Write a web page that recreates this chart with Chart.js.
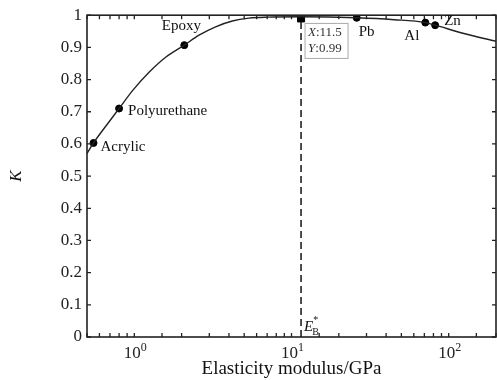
<!DOCTYPE html>
<html lang="en">
<head>
    <meta charset="UTF-8">
    <title>K vs elasticity modulus</title>
    <script src="https://cdn.jsdelivr.net/npm/chart.js"></script>
    <style>
        html, body { margin: 0; padding: 0; background: #fff; }
        #wrap { width: 497px; height: 380px; }
    </style>
</head>
<body>
    <div id="wrap">
        <canvas id="kChart" width="497" height="380"></canvas>
    </div>
    <script>
        // curve K(E)
        const curveX = [0.5, 0.55, 0.665, 0.8, 0.98, 1.25, 1.59, 2.08, 2.58, 3.29, 4.2, 5.35, 7, 11.5, 26, 45, 71, 82, 125, 200];
        const curveY = [0.57, 0.603, 0.658, 0.71, 0.767, 0.824, 0.87, 0.907, 0.938, 0.964, 0.982, 0.991, 0.994, 0.995, 0.992, 0.986, 0.977, 0.969, 0.943, 0.919];

        // materials marked on the curve
        const materials = ['Acrylic', 'Polyurethane', 'Epoxy', 'Pb', 'Al', 'Zn'];
        const matX = [0.55, 0.8, 2.08, 26, 71, 82];
        const matY = [0.603, 0.71, 0.907, 0.992, 0.977, 0.969];

        // optimum point E_B*
        const peakX = 11.5;
        const peakY = 0.99;

        const yTicks = [0, 0.1, 0.2, 0.3, 0.4, 0.5, 0.6, 0.7, 0.8, 0.9, 1];
        const xDecades = [1, 10, 100];   // labelled as 10^0, 10^1, 10^2

        const serif = "'Liberation Serif', 'Times New Roman', serif";

        // label offsets next to each point (px), text align
        const labelPos = {
            'Acrylic': [7, 4, 'left'],
            'Polyurethane': [9, 3, 'left'],
            'Epoxy': [-3, -19, 'center'],
            'Pb': [2, 14, 'left'],
            'Al': [-6, 13, 'right'],
            'Zn': [9, -4, 'left']
        };

        // draws inward ticks, the frame, the 10^n labels and the annotations
        const decorations = {
            id: 'decorations',
            afterDraw(chart) {
                const ctx = chart.ctx;
                const xs = chart.scales.x;
                const ys = chart.scales.y;
                const a = chart.chartArea;
                ctx.save();
                ctx.strokeStyle = '#222';
                ctx.lineWidth = 1.3;

                // x ticks top and bottom
                xs.ticks.forEach(t => {
                    const px = xs.getPixelForValue(t.value);
                    ctx.beginPath();
                    ctx.moveTo(px, a.bottom); ctx.lineTo(px, a.bottom - 4);
                    ctx.moveTo(px, a.top); ctx.lineTo(px, a.top + 4);
                    ctx.stroke();
                });
                // y ticks left and right
                yTicks.forEach(v => {
                    const py = ys.getPixelForValue(v);
                    ctx.beginPath();
                    ctx.moveTo(a.left, py); ctx.lineTo(a.left + 4, py);
                    ctx.moveTo(a.right, py); ctx.lineTo(a.right - 4, py);
                    ctx.stroke();
                });

                // frame
                ctx.lineWidth = 1.6;
                ctx.strokeRect(a.left, a.top, a.right - a.left, a.bottom - a.top);

                // x tick labels 10^n with real superscripts
                ctx.fillStyle = '#222';
                ctx.textBaseline = 'alphabetic';
                ctx.textAlign = 'left';
                xDecades.forEach(d => {
                    const px = xs.getPixelForValue(d);
                    const exp = String(Math.round(Math.log10(d)));
                    ctx.font = '17px ' + serif;
                    const wb = ctx.measureText('10').width;
                    ctx.font = '12px ' + serif;
                    const we = ctx.measureText(exp).width;
                    const x0 = px - (wb + we) / 2 + 1;
                    ctx.font = '17px ' + serif;
                    ctx.fillText('10', x0, a.bottom + 21);
                    ctx.font = '12px ' + serif;
                    ctx.fillText(exp, x0 + wb, a.bottom + 14);
                });

                // material names
                ctx.fillStyle = '#111';
                ctx.font = '15px ' + serif;
                ctx.textBaseline = 'middle';
                materials.forEach((m, i) => {
                    const p = labelPos[m];
                    ctx.textAlign = p[2];
                    ctx.fillText(m, xs.getPixelForValue(matX[i]) + p[0], ys.getPixelForValue(matY[i]) + p[1]);
                });

                // data tip box
                const bx = xs.getPixelForValue(peakX) + 4;
                const by = ys.getPixelForValue(peakY) + 5;
                ctx.fillStyle = '#fff';
                ctx.fillRect(bx, by, 43, 35);
                ctx.strokeStyle = '#aaa';
                ctx.lineWidth = 1;
                ctx.strokeRect(bx, by, 43, 35);
                ctx.fillStyle = '#333';
                ctx.textAlign = 'left';
                ctx.font = 'italic 13px ' + serif;
                ctx.fillText('X', bx + 3, by + 9);
                ctx.fillText('Y', bx + 3, by + 25);
                const wX = ctx.measureText('X').width;
                const wY = ctx.measureText('Y').width;
                ctx.font = '13px ' + serif;
                ctx.fillText(':' + peakX, bx + 3 + wX, by + 9);
                ctx.fillText(':' + peakY, bx + 3 + wY, by + 25);

                // E_B* label
                const ex = xs.getPixelForValue(peakX) + 3;
                const ey = a.bottom - 10;
                ctx.fillStyle = '#111';
                ctx.font = 'italic 15px ' + serif;
                ctx.fillText('E', ex, ey);
                const wE = ctx.measureText('E').width;
                ctx.font = '10px ' + serif;
                ctx.fillText('B', ex + wE - 1, ey + 5);
                ctx.fillText('*', ex + wE, ey - 7);

                ctx.restore();
            }
        };

        document.addEventListener('DOMContentLoaded', function() {
            const ctx = document.getElementById('kChart').getContext('2d');

            const curveData = curveX.map((x, i) => ({ x: x, y: curveY[i] }));
            const matData = matX.map((x, i) => ({ x: x, y: matY[i] }));

            new Chart(ctx, {
                type: 'scatter',
                data: {
                    datasets: [
                        {
                            label: 'E_B*',
                            type: 'line',
                            data: [{ x: peakX, y: 0 }, { x: peakX, y: peakY }],
                            borderColor: '#222',
                            borderWidth: 1.6,
                            borderDash: [7, 4],
                            pointRadius: 0
                        },
                        {
                            label: 'K',
                            type: 'line',
                            data: curveData,
                            borderColor: '#222',
                            borderWidth: 1.4,
                            pointRadius: 0,
                            cubicInterpolationMode: 'monotone'
                        },
                        {
                            label: 'materials',
                            data: matData,
                            backgroundColor: '#000',
                            borderColor: '#000',
                            pointRadius: 3.5
                        },
                        {
                            label: 'peak',
                            data: [{ x: peakX, y: peakY }],
                            pointStyle: 'rect',
                            backgroundColor: '#000',
                            borderColor: '#000',
                            pointRadius: 5
                        }
                    ]
                },
                options: {
                    responsive: false,
                    animation: false,
                    layout: { autoPadding: false, padding: { left: 0, top: 15, right: 1, bottom: 0 } },
                    plugins: {
                        legend: { display: false },
                        tooltip: { enabled: false }
                    },
                    scales: {
                        x: {
                            type: 'logarithmic',
                            min: 0.5,
                            max: 200,
                            grid: { display: false, drawTicks: false },
                            border: { display: false },
                            ticks: {
                                autoSkip: false,
                                maxRotation: 0,
                                padding: 0,
                                callback: () => ''
                            },
                            title: {
                                display: true,
                                text: 'Elasticity modulus/GPa',
                                color: '#111',
                                font: { family: serif, size: 19 },
                                padding: { top: 0, bottom: 0 }
                            },
                            afterFit: s => { s.height = 43; s.paddingLeft = 0; s.paddingRight = 0; }
                        },
                        y: {
                            min: 0,
                            max: 1,
                            grid: { display: false, drawTicks: false },
                            border: { display: false },
                            ticks: {
                                stepSize: 0.1,
                                padding: 5,
                                color: '#222',
                                font: { family: serif, size: 17 },
                                callback: v => String(+v.toFixed(1))
                            },
                            title: {
                                display: true,
                                text: 'K',
                                color: '#111',
                                font: { family: serif, size: 17, style: 'italic' },
                                padding: { top: 6, bottom: 0 }
                            },
                            afterFit: s => { s.width = 87; }
                        }
                    }
                },
                plugins: [decorations]
            });
        });
    </script>
</body>
</html>
